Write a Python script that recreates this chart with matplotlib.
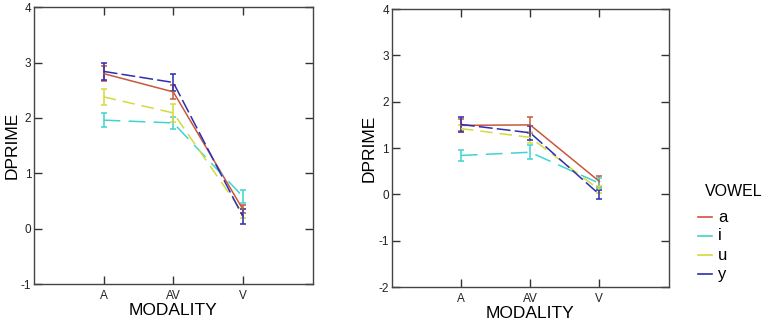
import matplotlib
matplotlib.use("Agg")
import matplotlib.pyplot as plt
from matplotlib.lines import Line2D

plt.rcParams['font.family'] = ['Liberation Sans', 'DejaVu Sans']
plt.rcParams['lines.scale_dashes'] = False
plt.rcParams['axes.unicode_minus'] = False

modalities = ["A", "AV", "V"]
vowels = ["a", "i", "u", "y"]

# Left panel means and error half-widths
left_means = {
    "a": [2.80, 2.47, 0.35],
    "i": [1.96, 1.91, 0.58],
    "u": [2.38, 2.09, 0.28],
    "y": [2.84, 2.64, 0.22],
}
left_err = {
    "a": [0.14, 0.13, 0.07],
    "i": [0.13, 0.11, 0.12],
    "u": [0.14, 0.16, 0.08],
    "y": [0.15, 0.16, 0.13],
}
# Right panel
right_means = {
    "a": [1.49, 1.50, 0.28],
    "i": [0.84, 0.91, 0.24],
    "u": [1.42, 1.23, 0.10],
    "y": [1.51, 1.33, 0.00],
}
right_err = {
    "a": [0.13, 0.18, 0.11],
    "i": [0.12, 0.15, 0.11],
    "u": [0.08, 0.12, 0.08],
    "y": [0.16, 0.15, 0.10],
}

colors = {"a": "#c8583c", "i": "#3fd3d3", "u": "#d4da3c", "y": "#2e2eae"}
dashes = {"a": None, "i": (12, 6), "u": (9, 5), "y": (10, 3)}

fig = plt.figure(figsize=(7.65, 3.24), dpi=100)
ax1 = fig.add_axes([0.0445, 0.123, 0.364, 0.855])
ax2 = fig.add_axes([0.512, 0.114, 0.362, 0.858])

def draw(ax, means, errs, ylim):
    x = [1, 2, 3]
    for v in vowels:
        eb = ax.errorbar(x, means[v], yerr=errs[v], color=colors[v], lw=1.1,
                         capsize=2, capthick=1.1, elinewidth=1.1)
        line = eb.lines[0]
        if dashes[v] is not None:
            line.set_dashes(dashes[v])
    ax.set_xlim(0, 4)
    ax.set_ylim(*ylim)
    ax.set_xticks(x)
    ax.set_xticklabels(modalities)
    ax.set_yticks(range(ylim[0], ylim[1] + 1))
    ax.tick_params(axis='both', direction='in', length=5.5, width=1.0,
                   labelsize=8.5, colors='#333333', labelcolor='#222222',
                   top=True, right=True)
    ax.tick_params(axis='y', pad=2)
    ax.tick_params(axis='x', pad=4)
    for s in ax.spines.values():
        s.set_color('#444444')
        s.set_linewidth(1.0)
    ax.set_xlabel("MODALITY", fontsize=12.5, labelpad=1)
    ax.set_ylabel("DPRIME", fontsize=12.5, labelpad=1)

draw(ax1, left_means, left_err, (-1, 4))
draw(ax2, right_means, right_err, (-2, 4))

# Legend drawn in figure pixel coordinates
W, H = 765, 324
fig.text(705 / W, 1 - 192 / H, "VOWEL", fontsize=11.5, va="center", ha="left")
ys = [217, 236, 255, 274]
for v, yp in zip(vowels, ys):
    fig.add_artist(Line2D([698 / W, 712 / W], [1 - yp / H, 1 - yp / H],
                          color=colors[v], lw=1.2, transform=fig.transFigure))
    fig.text(718 / W, 1 - yp / H, v, fontsize=12, va="center", ha="left")

fig.savefig("out.png", dpi=100)
